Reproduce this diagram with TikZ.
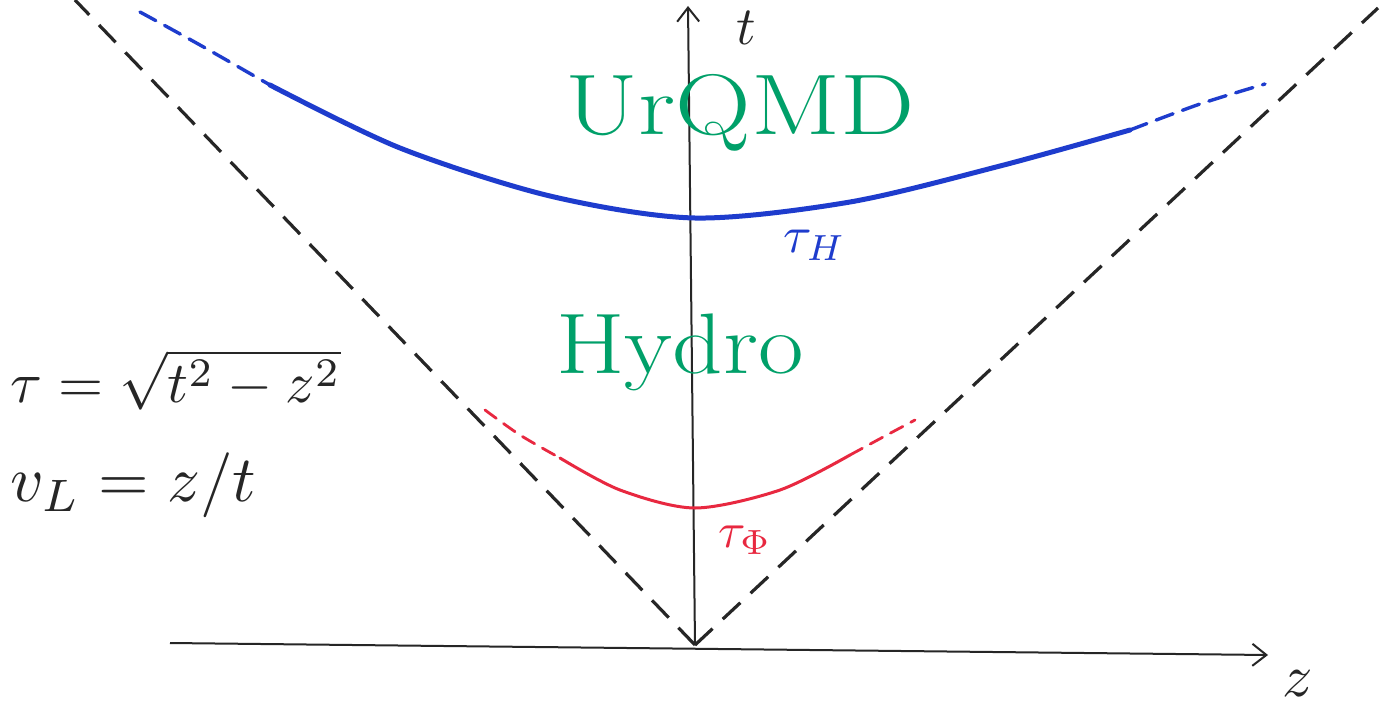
\documentclass[tikz,border=0pt]{standalone}
\usetikzlibrary{arrows.meta}
\definecolor{hgreen}{RGB}{0,160,105}
\definecolor{hblue}{RGB}{30,60,205}
\definecolor{hred}{RGB}{232,40,64}
\tikzset{
  axisline/.style={line width=2pt, black!85, -{Straight Barb[length=14pt,width=22pt,line width=2pt]}},
  coneline/.style={line width=3.2pt, black!85, dash pattern=on 24pt off 14pt},
  bluecurve/.style={line width=5pt, hblue, line cap=round},
  bluedash/.style={line width=3.4pt, hblue, dash pattern=on 18pt off 10pt, line cap=round},
  redcurve/.style={line width=3pt, hred, line cap=round},
  reddash/.style={line width=2.8pt, hred, dash pattern=on 14pt off 9pt, line cap=round},
  greenlabel/.style={text=hgreen, font=\fontsize{86}{94}\selectfont, inner sep=0pt},
  mathlabel/.style={inner sep=0pt},
}
\begin{document}
\begin{tikzpicture}[x=1pt,y=-1pt]
\useasboundingbox (0,0) rectangle (1391,709);
\fill[white] (0,0) rectangle (1391,709);
% coordinates
\coordinate (O) at (695,645);
\coordinate (zstart) at (170,643);
\coordinate (zend) at (1268,655);
\coordinate (tend) at (688,6);
\coordinate (lcone) at (75,0);
\coordinate (rcone) at (1378,8);
% light cone
\draw[coneline] (O) -- (lcone);
\draw[coneline] (O) -- (rcone);
% axes
\draw[axisline] (zstart) -- (zend);
\draw[axisline] (O) -- (tend);
\node[mathlabel, text=black!85] (tlab) at (746,28) {\scalebox{5.4}{$t$}};
\node[mathlabel, text=black!85] (zlab) at (1298,684) {\scalebox{6}{$z$}};
% blue hypersurface
\draw[bluedash] plot[smooth] coordinates {(140,12) (200,45) (270,85)};
\draw[bluecurve] plot[smooth] coordinates {(270,85) (400,148) (550,196) (695,218) (850,202) (1000,166) (1130,130)};
\draw[bluedash] plot[smooth] coordinates {(1130,130) (1200,104) (1265,84)};
% red hypersurface
\draw[reddash] plot[smooth] coordinates {(485,410) (520,435) (560,458)};
\draw[redcurve] plot[smooth] coordinates {(560,458) (620,490) (695,508) (780,490) (850,455)};
\draw[reddash] plot[smooth] coordinates {(850,455) (885,436) (915,420)};
% labels
\node[greenlabel] (urqmd) at (740,113) {\scalebox{1.22}[1]{UrQMD}};
\node[greenlabel] (hydro) at (680,352) {\scalebox{1.15}[1]{Hydro}};
\node[mathlabel, text=hblue] (tauH) at (815,245) {\scalebox{5.2}{$\tau_H$}};
\node[mathlabel, text=hred] (tauF) at (745,540) {\scalebox{5}{$\tau_\Phi$}};
\node[mathlabel, text=black!85, anchor=west] (eq1) at (10,380) {\scalebox{5.8}{$\tau=\sqrt{t^2-z^2}$}};
\node[mathlabel, text=black!85, anchor=west] (eq2) at (10,485) {\scalebox{6.5}{$v_L=z/t$}};
\end{tikzpicture}
\end{document}
